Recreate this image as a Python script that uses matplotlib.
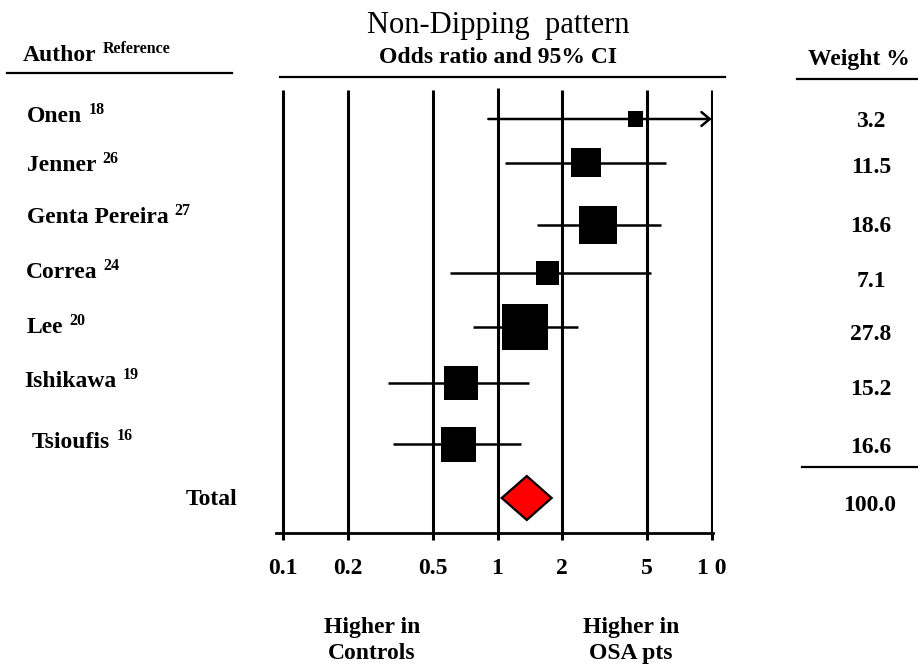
import numpy as np
import matplotlib
matplotlib.use("Agg")
import matplotlib.pyplot as plt
from matplotlib.patches import Polygon
from matplotlib.lines import Line2D
from matplotlib.ticker import NullLocator

# ---------------- data ----------------
authors = ["Onen", "Jenner", "Genta Pereira", "Correa", "Lee", "Ishikawa", "Tsioufis"]
refs = ["18", "26", "27", "24", "20", "19", "16"]
odds_ratio = [4.41, 2.59, 2.95, 1.71, 1.34, 0.674, 0.656]
ci_low = [0.906, 1.087, 1.53, 0.60, 0.766, 0.309, 0.324]
ci_high = [10.0, 6.10, 5.78, 5.19, 2.38, 1.41, 1.29]
ci_truncated = [True, False, False, False, False, False, False]
weights = [3.2, 11.5, 18.6, 7.1, 27.8, 15.2, 16.6]
weight_labels = ["3.2", "11.5", "18.6", "7.1", "27.8", "15.2", "16.6"]
total_or = 1.37
total_low = 1.046
total_high = 1.79
total_weight_label = "100.0"
tick_values = [0.1, 0.2, 0.5, 1, 2, 5, 10]
tick_labels = ["0.1", "0.2", "0.5", "1", "2", "5", "1 0"]

# ---------------- layout (pixel units) ----------------
W, H = 918, 668
row_y = [119, 162.7, 225, 273, 326.7, 382.7, 444.3]   # centre of each study row
total_y = 498
name_x = [27, 27, 27, 26, 27, 24, 32]
name_base = [121.7, 170.7, 222.7, 278.3, 332.7, 386.7, 448.3]
weight_base = [126.7, 173.3, 231.7, 286.7, 340, 395, 452.7]

FONT = ["Liberation Serif", "DejaVu Serif"]
plt.rcParams["font.family"] = FONT
plt.rcParams["font.weight"] = "bold"

fig = plt.figure(figsize=(W / 100, H / 100), dpi=100)

def fx(x):
    return x / W

def fy(y):
    return 1 - y / H

# axes: log x from pixel 276 to 713 ; 0.1 at 283.3, 10 at 711.7
dec = (711.7 - 283.3) / 2.0
xl = 10 ** (-1 + (276 - 283.3) / dec)
xr = 10 ** (1 + (713 - 711.7) / dec)
ax_top, ax_bot = 88, 533.3
ax = fig.add_axes([fx(276), fy(ax_bot), fx(713 - 276), (ax_bot - ax_top) / H])
ax.set_xscale("log")
ax.set_xlim(xl, xr)
ax.set_ylim(ax_bot, ax_top)
for s in ["top", "left", "right"]:
    ax.spines[s].set_visible(False)
ax.spines["bottom"].set_linewidth(2.0)
ax.yaxis.set_visible(False)
ax.xaxis.set_minor_locator(NullLocator())
ax.set_xticks(tick_values)
ax.set_xticklabels(tick_labels, fontsize=17, fontweight="bold")
ax.tick_params(axis="x", direction="out", length=5, width=2.2, pad=12.5)
ax.patch.set_alpha(0)

# vertical reference lines
for v in tick_values:
    top = 88 if v == 1 else 90
    ax.vlines(v, top, ax_bot, color="black", lw=2.2, zorder=1)

# CI lines and boxes
for i in range(len(authors)):
    y = row_y[i]
    if ci_truncated[i]:
        ax.annotate("", xy=(ci_high[i], y), xytext=(ci_low[i], y),
                    arrowprops=dict(arrowstyle="->,head_length=0.6,head_width=0.5",
                                    lw=1.8, color="black", shrinkA=0, shrinkB=0),
                    zorder=2)
    else:
        ax.hlines(y, ci_low[i], ci_high[i], color="black", lw=1.8, zorder=2)

side_pt = [8.7 * np.sqrt(w) * 0.72 for w in weights]
ax.scatter(odds_ratio, row_y, s=[s ** 2 for s in side_pt], marker="s",
           color="black", linewidths=0, zorder=3)

# total diamond
half_h = 22
dia = Polygon([(total_low, total_y), (total_or, total_y - half_h),
               (total_high, total_y), (total_or, total_y + half_h)],
              closed=True, facecolor="#ff0000", edgecolor="black", lw=1.6, zorder=3)
ax.add_patch(dia)

# ---------------- text ----------------
renderer = fig.canvas.get_renderer()

def sup_after(t, text, gap_px, dy_px, base_px):
    bb = t.get_window_extent(renderer)
    fig.text(fx(bb.x1 + gap_px), fy(base_px - dy_px), text, fontsize=11.5,
             fontweight="bold", ha="left", va="baseline")

fig.text(fx(498), fy(33.3), "Non-Dipping  pattern", fontsize=22, fontweight="normal",
         ha="center", va="baseline")
fig.text(fx(498), fy(62.7), "Odds ratio and 95% CI", fontsize=17, fontweight="bold",
         ha="center", va="baseline")

ta = fig.text(fx(22.5), fy(61), "Author", fontsize=17, fontweight="bold",
              ha="left", va="baseline")
sup_after(ta, "Reference", 6.3, 7.7, 61)

fig.text(fx(859), fy(65), "Weight %", fontsize=17, fontweight="bold",
         ha="center", va="baseline")

for i in range(len(authors)):
    t = fig.text(fx(name_x[i]), fy(name_base[i]), authors[i], fontsize=17,
                 fontweight="bold", ha="left", va="baseline")
    sup_after(t, refs[i], 6.0, 8.0, name_base[i])
    fig.text(fx(871), fy(weight_base[i]), weight_labels[i], fontsize=17,
             fontweight="bold", ha="center", va="baseline")

fig.text(fx(186), fy(505), "Total", fontsize=17, fontweight="bold",
         ha="left", va="baseline")
fig.text(fx(870), fy(510.7), total_weight_label, fontsize=17, fontweight="bold",
         ha="center", va="baseline")

fig.text(fx(372), fy(640.5), "Higher in\nControls", fontsize=17, fontweight="bold",
         ha="center", va="center", linespacing=1.33)
fig.text(fx(631), fy(640.5), "Higher in\nOSA pts", fontsize=17, fontweight="bold",
         ha="center", va="center", linespacing=1.33)

# decorative rules
def hrule(x0, x1, y, lw=1.6):
    fig.add_artist(Line2D([fx(x0), fx(x1)], [fy(y), fy(y)], color="black", lw=lw,
                          transform=fig.transFigure))

hrule(7, 232, 72.7)
hrule(280, 725, 76.7)
hrule(797, 918, 79)
hrule(802, 918, 466.7)

fig.savefig("out.png", dpi=100, facecolor="white")
